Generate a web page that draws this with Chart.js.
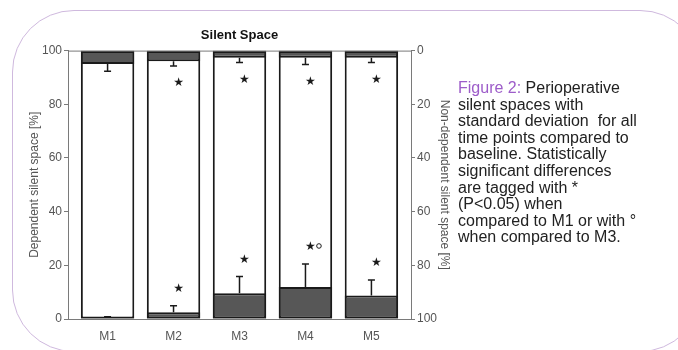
<!DOCTYPE html>
<html>
<head>
<meta charset="utf-8">
<script src="https://cdn.jsdelivr.net/npm/chart.js@4.4.0/dist/chart.umd.min.js"></script>
<style>
	html, body { margin: 0; padding: 0; background: #fff; }
	#wrap { position: relative; width: 678px; height: 350px; overflow: hidden; }
	#frame { position: absolute; left: 12px; top: 10px; width: 690px; height: 342px; border: 1.5px solid #cfb9de; border-radius: 62px; box-sizing: border-box; }
	#silent-graph { position: absolute; left: 0; top: 0; }
	#caption { position: absolute; left: 458px; top: 80px; font: 16px "Liberation Sans", Arial, sans-serif; line-height: 16.6px; color: #222; white-space: nowrap; }
	#caption .fig { color: #9d5cc9; }
</style>
</head>
<body>
<div id="wrap">
	<div id="frame"></div>
	<canvas id="silent-graph" width="678" height="350"></canvas>
	<div id="caption"><span class="fig">Figure 2:</span> Perioperative<br>silent spaces with<br>standard deviation&nbsp; for all<br>time points compared to<br>baseline. Statistically<br>significant differences<br>are tagged with *<br>(P&lt;0.05) when<br>compared to M1 or with °<br>when compared to M3.</div>
</div>
<script>
const categories = ["M1", "M2", "M3", "M4", "M5"];
// dependent silent space, left axis, grows from the bottom
const dependent = [0.5, 2.5, 9.6, 11.9, 8.8];
const dependentSd = [0.3, 2.4, 6.2, 8.6, 5.7];
// non-dependent silent space, right axis, grows from the top
const nonDependent = [5.0, 4.0, 2.7, 2.7, 2.7];
const nonDependentSd = [2.7, 1.7, 1.7, 2.5, 1.7];
// significance tags (* vs M1, ° vs M3)
const sigNonDependent = ["", "*", "*", "*", "*"];
const sigDependent = ["", "*", "*", "*°", "*"];
const leftTicks = [0, 20, 40, 60, 80, 100];
const rightTicks = [0, 20, 40, 60, 80, 100];

const FONT = "'Liberation Sans', Arial, sans-serif";
const AXIS = "#7a7a7a";
const INK = "#1a1a1a";
const DARK = "#575757";

const barData = (vals) => vals.map((v, i) => ({ x: i + 1, y: [0, v] }));

//------------plugin: error bars, stars, box top----------
const drawError = (ctx, x, y0, y1) => {
	ctx.beginPath();
	ctx.moveTo(x, y0);
	ctx.lineTo(x, y1);
	ctx.moveTo(x - 3.5, y1);
	ctx.lineTo(x + 3.5, y1);
	ctx.stroke();
};

const drawTag = (ctx, tag, x, y) => {
	if (!tag) return;
	ctx.fillText("\u2605", x, y);
	if (tag.includes("°")) {
		ctx.beginPath();
		ctx.arc(x + 8.5, y - 1, 2.3, 0, Math.PI * 2);
		ctx.stroke();
	}
};

const extrasPlugin = {
	id: "extras",
	afterDatasetsDraw(chart) {
		const { ctx, chartArea, scales } = chart;
		const { x, y, y2 } = scales;
		ctx.save();
		ctx.strokeStyle = AXIS;
		ctx.lineWidth = 1;
		ctx.beginPath();
		ctx.moveTo(chartArea.left, chartArea.top + 0.5);
		ctx.lineTo(chartArea.right, chartArea.top + 0.5);
		ctx.stroke();

		ctx.strokeStyle = INK;
		ctx.fillStyle = INK;
		ctx.lineWidth = 1.5;
		ctx.font = "12px 'DejaVu Sans'";
		ctx.textAlign = "center";
		ctx.textBaseline = "middle";
		categories.forEach((c, i) => {
			const px = x.getPixelForValue(i + 1);
			const depEnd = y.getPixelForValue(dependent[i] + dependentSd[i]);
			const nonEnd = y2.getPixelForValue(nonDependent[i] + nonDependentSd[i]);
			drawError(ctx, px, y.getPixelForValue(dependent[i]), depEnd);
			drawError(ctx, px, y2.getPixelForValue(nonDependent[i]), nonEnd);
			ctx.lineWidth = 1;
			drawTag(ctx, sigDependent[i], px + 5, depEnd - 17);
			drawTag(ctx, sigNonDependent[i], px + 5, nonEnd + 17);
			ctx.lineWidth = 1.5;
		});
		ctx.restore();
	},
};

const barStyle = {
	borderColor: INK,
	borderWidth: 2,
	borderSkipped: false,
	grouped: false,
	barPercentage: 1,
	categoryPercentage: 0.81,
};

const yAxis = (position, ticks, title, width, reverse) => ({
	type: "linear",
	position: position,
	reverse: reverse,
	min: 0,
	max: 100,
	afterBuildTicks: (s) => { s.ticks = ticks.map((v) => ({ value: v })); },
	afterFit: (s) => { s.width = width; },
	grid: { drawOnChartArea: false, drawTicks: true, tickLength: 4, color: AXIS },
	border: { color: AXIS },
	ticks: { color: "#555", padding: 2, font: { family: FONT, size: 12 } },
	title: { display: true, text: title, color: "#555", padding: 0, font: { family: FONT, size: 12 } },
});

const silentGraph = new Chart(document.getElementById("silent-graph"), {
	type: "bar",
	data: {
		datasets: [
			{ ...barStyle, data: barData(dependent), yAxisID: "y", backgroundColor: DARK, order: 1 },
			{ ...barStyle, data: barData(nonDependent), yAxisID: "y2", backgroundColor: DARK, order: 1 },
			{ ...barStyle, data: barData(categories.map(() => 100)), yAxisID: "y", backgroundColor: "#fff", order: 2 },
		],
	},
	options: {
		responsive: false,
		animation: false,
		layout: { padding: { left: 27, right: 226, top: 0, bottom: 0 } },
		scales: {
			x: {
				type: "linear",
				offset: false,
				min: 0.4,
				max: 5.6,
				afterBuildTicks: (s) => { s.ticks = categories.map((c, i) => ({ value: i + 1 })); },
				afterFit: (s) => { s.height = 31; },
				grid: { display: false, offset: false },
				border: { color: AXIS },
				ticks: {
					color: "#555",
					padding: 2,
					font: { family: FONT, size: 12 },
					callback: (v) => categories[v - 1],
				},
			},
			y: yAxis("left", leftTicks, "Dependent silent space [%]", 41, false),
			y2: yAxis("right", rightTicks, "Non-dependent silent space [%]", 41, true),
		},
		plugins: {
			legend: { display: false },
			tooltip: { enabled: false },
			title: {
				display: true,
				text: "Silent Space",
				color: "#111",
				font: { family: FONT, size: 13, weight: "bold" },
				padding: { top: 28, bottom: 7 },
			},
		},
	},
	plugins: [extrasPlugin],
});
</script>
</body>
</html>
